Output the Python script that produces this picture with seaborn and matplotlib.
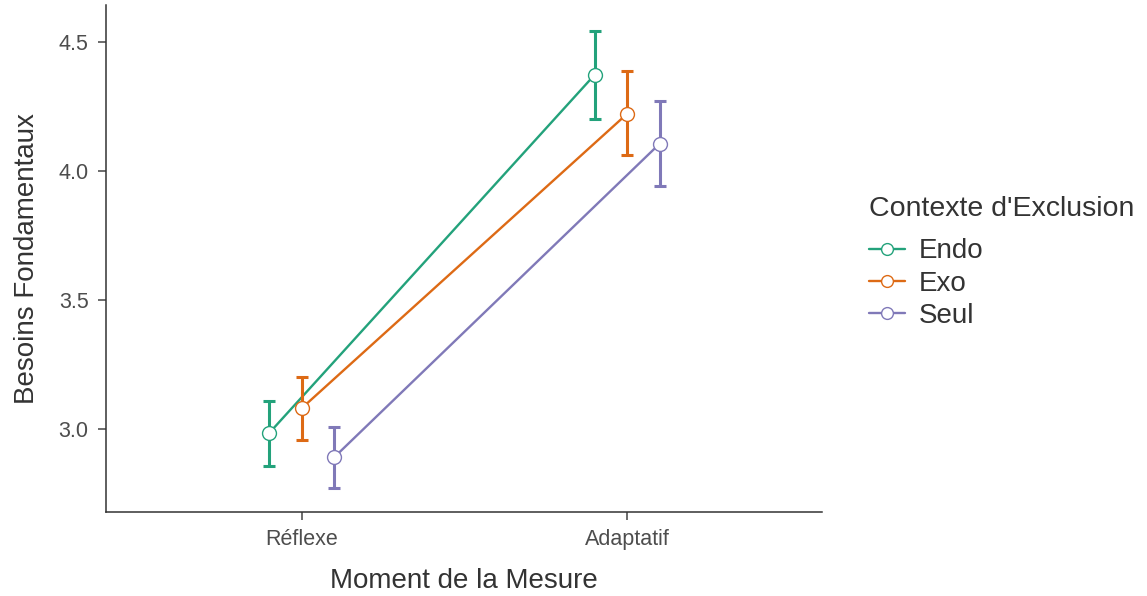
import numpy as np
import pandas as pd
import seaborn as sns
import matplotlib.pyplot as plt
from matplotlib.lines import Line2D

# Estimated marginal means with confidence bounds
moments = ["Réflexe", "Adaptatif"]
contextes = ["Endo", "Exo", "Seul"]
moyennes = {
    "Endo": [2.985, 4.372],
    "Exo": [3.081, 4.221],
    "Seul": [2.891, 4.105],
}
bornes_inf = {
    "Endo": [2.857, 4.202],
    "Exo": [2.957, 4.062],
    "Seul": [2.771, 3.942],
}
bornes_sup = {
    "Endo": [3.109, 4.543],
    "Exo": [3.200, 4.388],
    "Seul": [3.008, 4.270],
}
couleurs = ["#23A27B", "#DD6A15", "#8079B8"]

sns.set_theme(style="ticks")
plt.rcParams["font.family"] = ["Liberation Sans", "DejaVu Sans"]

decalage = {"Endo": -0.1, "Exo": 0.0, "Seul": 0.1}
rows = []
for c in contextes:
    for i, m in enumerate(moments):
        rows.append({"moment": m, "pos": i + decalage[c], "contexte": c,
                     "moyenne": moyennes[c][i], "inf": bornes_inf[c][i],
                     "sup": bornes_sup[c][i]})
df = pd.DataFrame(rows)

fig = plt.figure(figsize=(11.47, 5.96), dpi=100)
ax = fig.add_axes([0.0924, 0.141, 0.6243, 0.8506])

pal = dict(zip(contextes, couleurs))
sns.lineplot(data=df, x="pos", y="moyenne", hue="contexte", palette=pal,
             hue_order=contextes, linewidth=1.7, ax=ax, legend=False,
             zorder=2)
for c in contextes:
    sub = df[df.contexte == c]
    ax.errorbar(sub.pos, sub.moyenne,
                yerr=[sub.moyenne - sub.inf, sub.sup - sub.moyenne],
                fmt="none", ecolor=pal[c], elinewidth=2.2, capsize=4,
                capthick=2.2, zorder=3)
    ax.plot(sub.pos, sub.moyenne, "o", ms=10, mfc="white", mec=pal[c],
            mew=1.0, zorder=4)

ax.set_xlim(-0.603, 1.6)
ax.set_ylim(2.678, 4.643)
ax.set_xticks([0, 1])
ax.set_xticklabels(moments)
ax.set_yticks([3.0, 3.5, 4.0, 4.5])
ax.set_yticklabels(["3.0", "3.5", "4.0", "4.5"])
ax.tick_params(axis="both", labelsize=15.5, colors="#444444", length=5.5,
               width=1.1, labelcolor="#4d4d4d")
ax.tick_params(axis="y", pad=7)
ax.tick_params(axis="x", pad=7)
for s in ["left", "bottom"]:
    ax.spines[s].set_color("#333333")
    ax.spines[s].set_linewidth(1.1)
sns.despine(ax=ax)
ax.set_xlabel("Moment de la Mesure", fontsize=20, color="#333333", labelpad=13)
ax.set_ylabel("Besoins Fondamentaux", fontsize=20, color="#333333", labelpad=13)

handles = [Line2D([0], [0], color=col, lw=1.7, marker="o", ms=8.5,
                  mfc="white", mec=col, mew=1.0) for col in couleurs]
leg = fig.legend(handles, contextes, title="Contexte d'Exclusion",
                 loc="center left", bbox_to_anchor=(0.748, 0.56),
                 frameon=False, fontsize=20, title_fontsize=20.5,
                 handlelength=1.3, handletextpad=0.5, labelspacing=0.22,
                 alignment="left", borderaxespad=0.0)
leg._legend_box.sep = 12
for t in leg.get_texts():
    t.set_color("#333333")
leg.get_title().set_color("#333333")

fig.savefig("out.png", dpi=100)
